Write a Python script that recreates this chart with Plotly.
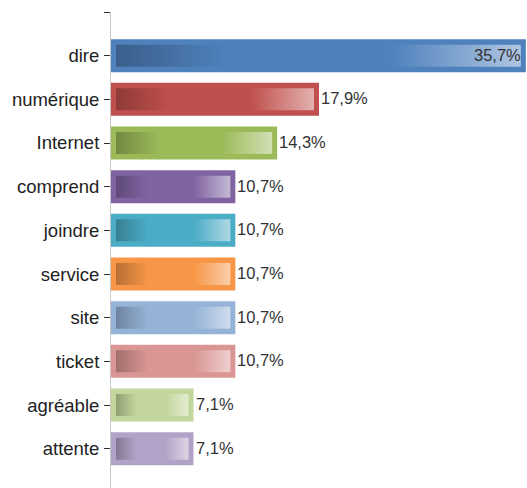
import plotly.graph_objects as go

categories = ["dire", "numérique", "Internet", "comprend", "joindre", "service",
              "site", "ticket", "agréable", "attente"]
values = [35.7, 17.9, 14.3, 10.7, 10.7, 10.7, 10.7, 10.7, 7.1, 7.1]
colors = ["#4F81BD", "#C0504D", "#9BBB59", "#8064A2", "#4BACC6", "#F79646",
          "#95B3D7", "#D99694", "#C3D69B", "#B3A2C7"]
inside_label = [True, False, False, False, False, False, False, False, False, False]


def hex_rgb(h):
    h = h.lstrip("#")
    return tuple(int(h[i:i + 2], 16) for i in (0, 2, 4))


def shade(h, f):
    r, g, b = hex_rgb(h)
    return "rgb(%d,%d,%d)" % (r * f, g * f, b * f)


def tint(h, f):
    r, g, b = hex_rgb(h)
    return "rgb(%d,%d,%d)" % (r + (255 - r) * f, g + (255 - g) * f, b + (255 - b) * f)


ypos = list(range(len(categories)))
labels = [("%.1f%%" % v).replace(".", ",") for v in values]

BAR_W = 0.756
INSET_X = 0.43
INNER_H = 0.252
FONT = "Arial, Liberation Sans, sans-serif"

fig = go.Figure()
fig.add_trace(go.Bar(
    x=values, y=ypos, orientation="h", width=BAR_W,
    marker=dict(color=colors, line=dict(width=0)),
    hoverinfo="skip", showlegend=False,
))

for yi, v, c in zip(ypos, values, colors):
    x0, x1 = INSET_X, v - INSET_X
    y0, y1 = yi - INNER_H, yi + INNER_H
    fig.add_trace(go.Scatter(
        x=[x0, x1, x1, x0, x0], y=[y0, y0, y1, y1, y0],
        mode="lines", fill="toself", line=dict(width=0),
        fillgradient=dict(type="horizontal", colorscale=[
            [0.0, shade(c, 0.74)], [0.28, c], [0.68, c], [1.0, tint(c, 0.55)]]),
        hoverinfo="skip", showlegend=False,
    ))

for yi, v, t, ins in zip(ypos, values, labels, inside_label):
    fig.add_annotation(
        x=v, y=yi, text=t, showarrow=False,
        xanchor="right" if ins else "left", yanchor="middle",
        xshift=-3 if ins else 0, yshift=1,
        font=dict(family=FONT, size=16.5, color="#333333"),
    )

fig.update_layout(
    width=527, height=488,
    margin=dict(l=111, r=0, t=12, b=0),
    plot_bgcolor="white", paper_bgcolor="white",
    font=dict(family=FONT, size=18.5, color="#222222"),
    xaxis=dict(range=[0, 35.8], showgrid=False, zeroline=False, showticklabels=False,
               showline=False, ticks=""),
    yaxis=dict(range=[9.9, -1], tickmode="array",
               tickvals=[-1] + ypos, ticktext=[""] + categories,
               showgrid=False, zeroline=False, showline=True, linecolor="#c8c8c8",
               linewidth=1, ticks="outside", ticklen=6, tickcolor="#333333",
               tickwidth=1, ticklabelstandoff=1),
)

fig.write_html("out.html")
